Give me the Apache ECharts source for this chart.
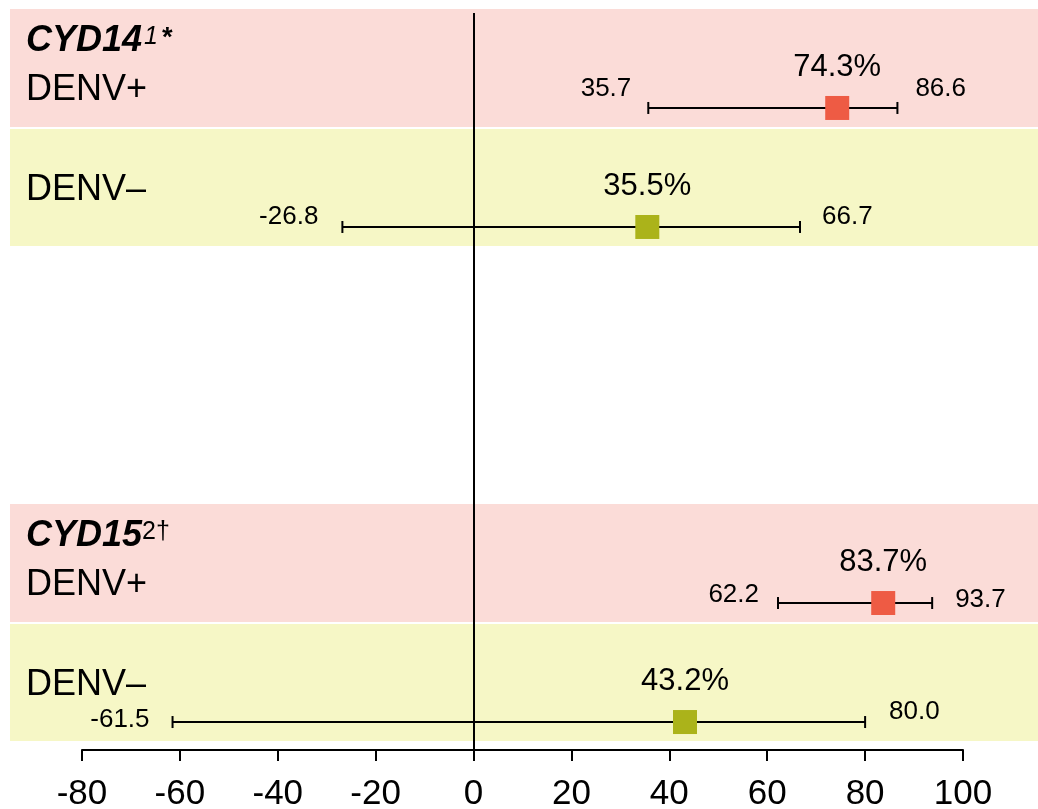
<!DOCTYPE html>
<html>
<head>
<meta charset="utf-8">
<title>Vaccine efficacy by baseline dengue serostatus</title>
<script src="https://cdn.jsdelivr.net/npm/echarts@6/dist/echarts.min.js"></script>
<style>
  html, body { margin: 0; padding: 0; background: #ffffff; }
  #chart { width: 1038px; height: 809px; }
</style>
</head>
<body>
<div id="chart"></div>
<script>
// Trials, serostatus subgroups and efficacy estimates (%) with 95% CI bounds
const studies = ['CYD14', 'CYD15'];
const studyRefs = ['1', '2'];
const studyMarks = ['*', '†'];
const groups = ['DENV+', 'DENV–'];
const efficacy = [74.3, 35.5, 83.7, 43.2];
const ciLower = [35.7, -26.8, 62.2, -61.5];
const ciUpper = [86.6, 66.7, 93.7, 80.0];
const axisTicks = [-80, -60, -40, -20, 0, 20, 40, 60, 80, 100];

// ---- styling / layout ----
const FONT = '"Liberation Sans", Arial, Helvetica, sans-serif';
const bandColors = ['#fbdcd8', '#f6f7c6'];
const markColors = ['#ee5b44', '#abb31a'];
// rich-text styles for each trial's footnote reference and symbol
const refStyle = ['refItalic', 'ref'];
const markStyle = ['markBold', 'ref'];
// CI-bound labels: vertical lift above the line and horizontal gap from the whisker, [lower, upper]
const ciLabelLift = [[19, 19], [10, 10], [8, 3], [2, 10]];
const ciLabelGap = [[17, 18], [24, 22], [19, 23], [23, 24]];
const groupLabelLift = [18, 37];
const titleLift = 67;
// empty space (in row units) separating the two trials
const trialGap = 2.16;

const slotOf = i => Math.floor(i / groups.length) * (groups.length + trialGap) + (i % groups.length);
const rowIdx = efficacy.map((_, i) => i);

const chart = echarts.init(document.getElementById('chart'), null, { renderer: 'canvas' });

const bandData = rowIdx.map(i => [0, slotOf(i), i % groups.length, Math.floor(i / groups.length)]);
const ciData = rowIdx.map(i => [ciLower[i], ciUpper[i], slotOf(i), i]);
const pointData = rowIdx.map(i => ({
  value: [efficacy[i], slotOf(i)],
  itemStyle: { color: markColors[i % groups.length], opacity: 1 }
}));

function renderBand(params, api) {
  const slot = api.value(1);
  const g = api.value(2);
  const s = api.value(3);
  const y = api.coord([0, slot])[1];
  const w = api.getWidth();
  const top = y - (g === 0 ? 99 : 98);
  const children = [{
    type: 'rect',
    shape: { x: 10, y: top, width: w - 10, height: y + 19 - top },
    style: { fill: bandColors[g] },
    silent: true
  }, {
    type: 'text',
    style: {
      text: groups[g], x: 26, y: y - groupLabelLift[g],
      align: 'left', verticalAlign: 'middle',
      fontSize: 36, fontFamily: FONT, fill: '#000'
    },
    silent: true
  }];
  if (g === 0) {
    children.push({
      type: 'text',
      style: {
        text: '{t|' + studies[s] + '}{' + refStyle[s] + '|' + studyRefs[s] + '}{' + markStyle[s] + '|' + studyMarks[s] + '}',
        x: 26, y: y - titleLift,
        align: 'left', verticalAlign: 'middle',
        fill: '#000',
        rich: {
          t: { fontSize: 36, fontWeight: 'bold', fontStyle: 'italic', fontFamily: FONT, fill: '#000' },
          refItalic: { fontSize: 25, fontStyle: 'italic', fontFamily: FONT, fill: '#000', verticalAlign: 'top', padding: [2, 3, 0, 2] },
          markBold: { fontSize: 27, fontStyle: 'italic', fontWeight: 'bold', fontFamily: FONT, fill: '#000', verticalAlign: 'top', padding: [2, 0, 0, 0] },
          ref: { fontSize: 25, fontFamily: FONT, fill: '#000', verticalAlign: 'top', padding: [2, 0, 0, 0] }
        }
      },
      silent: true
    });
  }
  return { type: 'group', children: children };
}

function renderCI(params, api) {
  const lo = api.value(0), hi = api.value(1), slot = api.value(2), i = api.value(3);
  const p0 = api.coord([lo, slot]);
  const p1 = api.coord([hi, slot]);
  const stroke = { stroke: '#000', lineWidth: 2 };
  const lbl = { fontSize: 26, fontFamily: FONT, fill: '#000', verticalAlign: 'middle' };
  return {
    type: 'group',
    children: [
      { type: 'line', shape: { x1: p0[0], y1: p0[1], x2: p1[0], y2: p1[1] }, style: stroke },
      { type: 'line', shape: { x1: p0[0], y1: p0[1] - 6, x2: p0[0], y2: p0[1] + 6 }, style: stroke },
      { type: 'line', shape: { x1: p1[0], y1: p1[1] - 6, x2: p1[0], y2: p1[1] + 6 }, style: stroke },
      { type: 'text', style: Object.assign({ text: lo.toFixed(1), x: p0[0] - ciLabelGap[i][0], y: p0[1] - ciLabelLift[i][0], align: 'right' }, lbl) },
      { type: 'text', style: Object.assign({ text: hi.toFixed(1), x: p1[0] + ciLabelGap[i][1], y: p1[1] - ciLabelLift[i][1], align: 'left' }, lbl) }
    ]
  };
}

const option = {
  backgroundColor: '#ffffff',
  animation: false,
  grid: { left: 82, right: 75, top: 13, bottom: 59, containLabel: false, outerBoundsMode: 'none' },
  xAxis: {
    type: 'value',
    min: axisTicks[0],
    max: axisTicks[axisTicks.length - 1],
    interval: axisTicks[1] - axisTicks[0],
    axisLine: { show: true, onZero: false, lineStyle: { color: '#000', width: 2 } },
    axisTick: { show: true, length: 11, lineStyle: { color: '#000', width: 2 } },
    axisLabel: { fontSize: 35, color: '#000', fontFamily: FONT, margin: 27 },
    splitLine: { show: false }
  },
  yAxis: {
    type: 'value',
    min: -0.798,
    max: 5.395,
    inverse: true,
    show: false
  },
  series: [
    {
      type: 'custom',
      z: 1,
      silent: true,
      renderItem: renderBand,
      data: bandData,
      encode: { x: 0, y: 1 }
    },
    {
      type: 'custom',
      z: 3,
      silent: true,
      renderItem: renderCI,
      data: ciData,
      encode: { x: [0, 1], y: 2 }
    },
    {
      type: 'scatter',
      z: 4,
      symbol: 'rect',
      symbolSize: 24,
      itemStyle: { opacity: 1 },
      data: pointData,
      label: {
        show: true,
        position: 'inside',
        offset: [0, -41],
        fontSize: 31,
        fontFamily: FONT,
        color: '#000',
        opacity: 1,
        formatter: p => p.value[0].toFixed(1) + '%'
      },
      markLine: {
        silent: true,
        symbol: ['none', 'none'],
        label: { show: false },
        lineStyle: { color: '#000', width: 2, type: 'solid', opacity: 1 },
        data: [{ xAxis: 0 }]
      }
    }
  ]
};

chart.setOption(option);
</script>
</body>
</html>
